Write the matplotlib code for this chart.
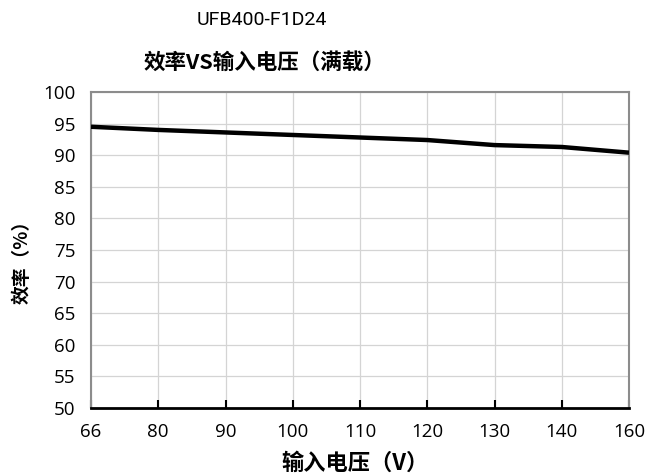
import numpy as np
import matplotlib.pyplot as plt

# input voltage categories (equally spaced on the chart) and full-load efficiency
voltage = ['66', '80', '90', '100', '110', '120', '130', '140', '160']
efficiency = [94.5, 94.0, 93.6, 93.2, 92.8, 92.4, 91.6, 91.3, 90.4]
yticks = [50, 55, 60, 65, 70, 75, 80, 85, 90, 95, 100]

cjk = ['Noto Sans CJK SC', 'DejaVu Sans']
num_font = ['Open Sans', 'DejaVu Sans']

fig = plt.figure(figsize=(6.48, 4.75), dpi=100)
ax = fig.add_axes([91 / 648, 1 - 408 / 475, 538 / 648, 316 / 475])

x = np.arange(len(voltage))
ax.plot(x, efficiency, color='black', lw=3.2, solid_capstyle='butt', zorder=3)

ax.set_xlim(0, len(voltage) - 1)
ax.set_ylim(50, 100)
ax.set_xticks(x)
ax.set_xticklabels(voltage, family=num_font, fontsize=13.5)
ax.set_yticks(yticks)
ax.set_yticklabels([str(v) for v in yticks], family=num_font, fontsize=13.5)

ax.grid(True, color='#d4d4d4', lw=0.9)
ax.set_axisbelow(True)

for side in ['left', 'top', 'right']:
    ax.spines[side].set_color('#8c8c8c')
    ax.spines[side].set_linewidth(1.5)
ax.spines['bottom'].set_color('black')
ax.spines['bottom'].set_linewidth(2)

ax.tick_params(axis='x', direction='in', length=6, width=1.5, color='black', pad=11)
ax.tick_params(axis='y', length=0, pad=11)

fig.text(262 / 648, 1 - 20 / 475, 'UFB400-F1D24', ha='center', va='center',
         family=['Roboto', 'DejaVu Sans'], fontsize=14)
fig.text(264 / 648, 1 - 62 / 475, '效率VS输入电压（满载）', ha='center', va='center',
         family=cjk, fontsize=15.5, fontweight='bold')
fig.text(355 / 648, 1 - 463 / 475, '输入电压（V）', ha='center', va='center',
         family=cjk, fontsize=16, fontweight='bold')
fig.text(22 / 648, 1 - 257 / 475, '效率（%）', ha='center', va='center', rotation=90,
         family=cjk, fontsize=13.5, fontweight='bold')

fig.savefig('out.png', dpi=100)
